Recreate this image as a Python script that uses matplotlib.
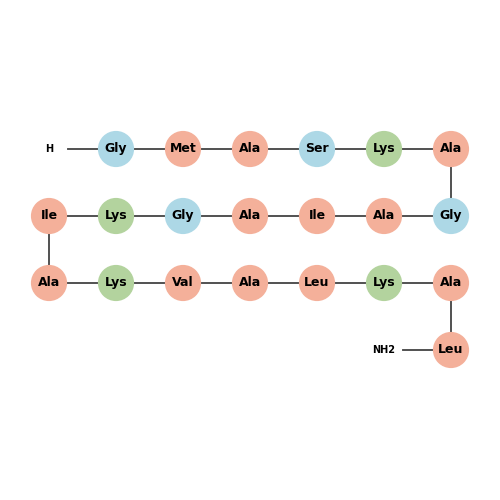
import matplotlib
matplotlib.use("Agg")
import matplotlib.pyplot as plt
from matplotlib.patches import Circle

# peptide sequence, N-terminus to C-terminus
N_TERM = "H"
C_TERM = "NH2"
RESIDUES = [
    "Gly", "Met", "Ala", "Ser", "Lys", "Ala",
    "Gly", "Ala", "Ile", "Ala", "Gly", "Lys", "Ile",
    "Ala", "Lys", "Val", "Ala", "Leu", "Lys", "Ala",
    "Leu",
]
ROW_LEN = 7

COLORS = {
    "Gly": "#ADD8E6", "Ser": "#ADD8E6",
    "Lys": "#B3D39E",
}
DEFAULT_COLOR = "#F4B09A"
RADIUS = 0.27


def snake_position(i):
    row = i // ROW_LEN
    col = i % ROW_LEN
    if row % 2 == 1:
        col = ROW_LEN - 1 - col
    return col, row


labels = [N_TERM] + RESIDUES + [C_TERM]
positions = [snake_position(i) for i in range(len(labels))]

fig = plt.figure(figsize=(5, 5), dpi=100)
ax = fig.add_axes([0, 0, 1, 1])
ax.set_xlim(-49 / 67, 451 / 67)
ax.set_ylim(351 / 67, -149 / 67)
ax.set_aspect("equal")
ax.axis("off")

# backbone bonds
for (x0, y0), (x1, y1) in zip(positions[:-1], positions[1:]):
    ax.plot([x0, x1], [y0, y1], color="#333333", lw=1.2, zorder=1)

for lab, (x, y) in zip(labels, positions):
    if lab in (N_TERM, C_TERM):
        ax.add_patch(Circle((x, y), RADIUS, facecolor="white", edgecolor="none", zorder=2))
        ax.text(x, y, lab, ha="center", va="center", fontsize=7,
                fontweight="bold", zorder=3)
    else:
        ax.add_patch(Circle((x, y), RADIUS, facecolor=COLORS.get(lab, DEFAULT_COLOR),
                            edgecolor="none", zorder=2))
        ax.text(x, y, lab, ha="center", va="center", fontsize=9,
                fontweight="bold", zorder=3)

fig.savefig("out.png", dpi=100, facecolor="white")
